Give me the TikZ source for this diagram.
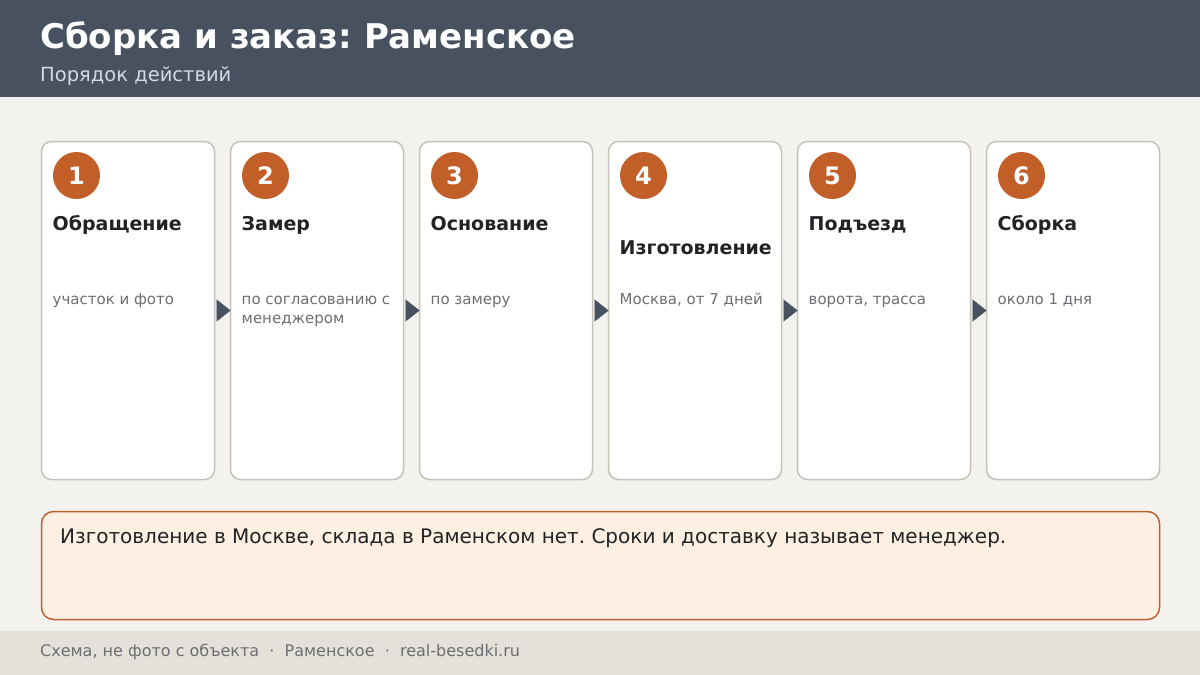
\documentclass[tikz,border=0pt]{standalone}
\usepackage{fontspec}
\setmainfont{DejaVu Sans}
\frenchspacing
\usetikzlibrary{positioning,arrows.meta}

\definecolor{headbg}{HTML}{475160}
\definecolor{pagebg}{HTML}{F3F2EE}
\definecolor{footbg}{HTML}{E4E1DB}
\definecolor{cardline}{HTML}{C5C2BA}
\definecolor{badgefill}{HTML}{C25E28}
\definecolor{inktext}{HTML}{222326}
\definecolor{greytext}{HTML}{6E6E72}
\definecolor{subtext}{HTML}{D3DAE3}
\definecolor{notebg}{HTML}{FDEFE1}
\definecolor{noteline}{HTML}{B8632F}

\tikzset{
    card/.style={draw=cardline, line width=1.5pt, fill=white, rounded corners=10pt,
        minimum width=173pt, minimum height=338pt, inner sep=0pt, outer sep=0pt},
    badge/.style={circle, fill=badgefill, minimum size=47pt, inner sep=0pt,
        text=white, font=\fontsize{24}{24}\selectfont\bfseries},
    steptitle/.style={anchor=base west, inner sep=0pt, text=inktext,
        font=\fontsize{19}{19}\selectfont\bfseries},
    stepnote/.style={anchor=base west, inner sep=0pt, text=greytext, align=left,
        font=\fontsize{15}{19}\selectfont},
    steparrow/.style={line width=0.1pt, headbg, shorten <=2pt,
        -{Triangle[length=14pt,width=22pt]}},
}

\begin{document}
\begin{tikzpicture}[x=1pt, y=-1pt]
    \useasboundingbox (0,0) rectangle (1200,675);
    \fill[pagebg] (0,0) rectangle (1200,675);

    % header
    \fill[headbg] (0,0) rectangle (1200,97);
    \node[anchor=base west, inner sep=0pt, text=white, font=\fontsize{34}{34}\selectfont\bfseries]
        (title) at (40,48) {Сборка и заказ: Раменское};
    \node[anchor=base west, inner sep=0pt, text=subtext, font=\fontsize{19.5}{20}\selectfont]
        (subtitle) at (40,81) {Порядок действий};

    % cards
    \node[card] (c1) at (128,310.5) {};
    \node[card, right=16pt of c1] (c2) {};
    \node[card, right=16pt of c2] (c3) {};
    \node[card, right=16pt of c3] (c4) {};
    \node[card, right=16pt of c4] (c5) {};
    \node[card, right=16pt of c5] (c6) {};

    \node[badge] (n1) at ([xshift=35pt,yshift=-34pt]c1.north west) {1};
    \node[badge] (n2) at ([xshift=35pt,yshift=-34pt]c2.north west) {2};
    \node[badge] (n3) at ([xshift=35pt,yshift=-34pt]c3.north west) {3};
    \node[badge] (n4) at ([xshift=35pt,yshift=-34pt]c4.north west) {4};
    \node[badge] (n5) at ([xshift=35pt,yshift=-34pt]c5.north west) {5};
    \node[badge] (n6) at ([xshift=35pt,yshift=-34pt]c6.north west) {6};

    \node[steptitle] (t1) at ([xshift=11pt,yshift=-89pt]c1.north west) {Обращение};
    \node[steptitle] (t2) at ([xshift=11pt,yshift=-89pt]c2.north west) {Замер};
    \node[steptitle] (t3) at ([xshift=11pt,yshift=-89pt]c3.north west) {Основание};
    \node[steptitle] (t4) at ([xshift=11pt,yshift=-113pt]c4.north west) {Изготовление};
    \node[steptitle] (t5) at ([xshift=11pt,yshift=-89pt]c5.north west) {Подъезд};
    \node[steptitle] (t6) at ([xshift=11pt,yshift=-89pt]c6.north west) {Сборка};

    \node[stepnote] (d1) at ([xshift=11pt,yshift=-163pt]c1.north west) {участок и фото};
    \node[stepnote] (d2) at ([xshift=11pt,yshift=-182pt]c2.north west) {по согласованию с\\менеджером};
    \node[stepnote] (d3) at ([xshift=11pt,yshift=-163pt]c3.north west) {по замеру};
    \node[stepnote] (d4) at ([xshift=11pt,yshift=-163pt]c4.north west) {Москва, от 7 дней};
    \node[stepnote] (d5) at ([xshift=11pt,yshift=-163pt]c5.north west) {ворота, трасса};
    \node[stepnote] (d6) at ([xshift=11pt,yshift=-163pt]c6.north west) {около 1 дня};

    \draw[steparrow] (c1.east) -- (c2.west);
    \draw[steparrow] (c2.east) -- (c3.west);
    \draw[steparrow] (c3.east) -- (c4.west);
    \draw[steparrow] (c4.east) -- (c5.west);
    \draw[steparrow] (c5.east) -- (c6.west);

    % note
    \draw[noteline, fill=notebg, line width=1.5pt, rounded corners=12pt] (41.5,511.5) rectangle (1159.5,619.5);
    \node[anchor=base west, inner sep=0pt, text=inktext, font=\fontsize{20}{20}\selectfont]
        (note) at (60,543) {Изготовление в Москве, склада в Раменском нет. Сроки и доставку называет менеджер.};

    % footer
    \fill[footbg] (0,631) rectangle (1200,675);
    \node[anchor=base west, inner sep=0pt, text=greytext, font=\fontsize{16}{16}\selectfont]
        (foot) at (40,656) {Схема, не фото с объекта\ \ ·\ \ Раменское\ \ ·\ \ real-besedki.ru};
\end{tikzpicture}
\end{document}
